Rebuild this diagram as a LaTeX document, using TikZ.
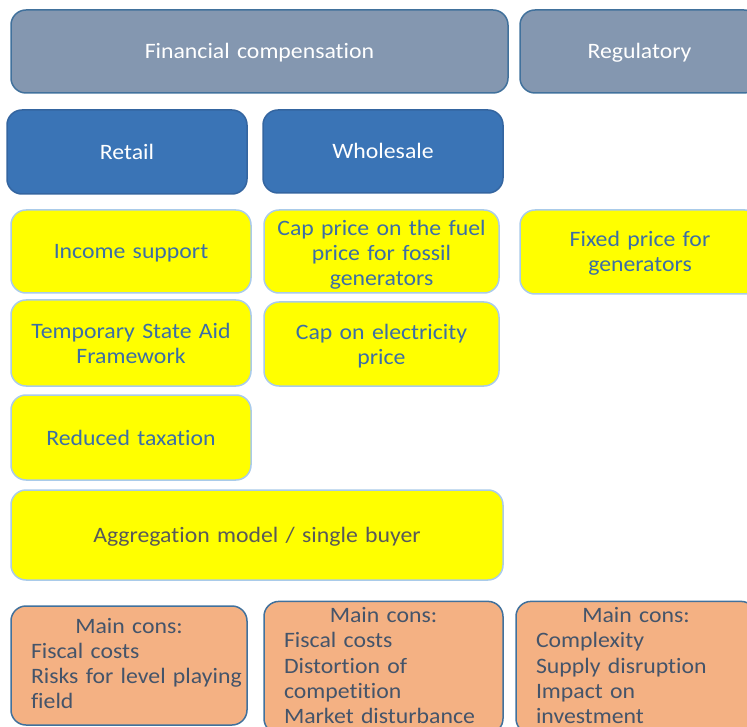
\documentclass[tikz,border=0pt]{standalone}
\usepackage{fontspec}
\setmainfont{Carlito}[FakeStretch=1.08,Ligatures=CommonOff]
\usetikzlibrary{positioning}

\begin{document}
\begin{tikzpicture}[x=1pt,y=-1pt,
	box/.style={rectangle,rounded corners=15pt,line width=1.5pt,inner sep=0pt,
		text width=215pt,align=center,font=\fontsize{22}{25}\selectfont,
		execute at begin node={\rule{0pt}{21pt}},
		execute at end node={\rule[-6pt]{0pt}{0pt}}},
	head node/.style={box,draw=frame,fill=slate,text=white},
	sub node/.style={box,draw=subframe,fill=steel,text=white},
	measure node/.style={box,draw=lightframe,fill=yellow,text=itemtext},
	cons node/.style={box,draw=frame,fill=peach,text=constext,align=left,
		font=\fontsize{22}{25.3}\selectfont,
		execute at end node={\rule[-10pt]{0pt}{0pt}}}]
	
	\definecolor{slate}{HTML}{8497B0}
	\definecolor{frame}{HTML}{41719C}
	\definecolor{steel}{HTML}{3A74B6}
	\definecolor{subframe}{HTML}{3465A0}
	\definecolor{yellow}{HTML}{FFFF00}
	\definecolor{lightframe}{HTML}{A9CBEA}
	\definecolor{itemtext}{HTML}{3C6EA6}
	\definecolor{peach}{HTML}{F4B183}
	\definecolor{constext}{HTML}{44546A}
	\definecolor{aggtext}{HTML}{595959}
	
	\useasboundingbox (0,0) rectangle (747,727);
	\clip (0,0) rectangle (747,727);
	
	% top row
	\node[head node, minimum width=497pt, minimum height=83pt, text width=470pt] (fin) at (259.5,51.5) {Financial compensation};
	\node[head node, minimum width=239pt, minimum height=83pt] (reg) at (639.5,51.5) {Regulatory};
	
	\node[sub node, minimum width=240pt, minimum height=84pt] (retail) at (127,152) {Retail};
	\node[sub node, minimum width=240pt, minimum height=83pt] (wholesale) at (383,151.5) {Wholesale};
	
	% measures
	\node[measure node, minimum width=240pt, minimum height=83pt] (income) at (131,251.5) {Income support};
	\node[measure node, minimum width=235pt, minimum height=83pt,
		execute at begin node={\rule{0pt}{25pt}}] (capfuel) at (381.5,251.5) {Cap price on the fuel\\price for fossil\\generators};
	\node[measure node, minimum width=240pt, minimum height=84pt] (fixed) at (640,252) {Fixed price for\\generators};
	\node[measure node, minimum width=240pt, minimum height=86pt] (aid) at (131,343) {Temporary State Aid\\Framework};
	\node[measure node, minimum width=235pt, minimum height=84pt] (capelec) at (381.5,344) {Cap on electricity\\price};
	\node[measure node, minimum width=240pt, minimum height=85pt] (tax) at (131,437.5) {Reduced taxation};
	\node[measure node, minimum width=492pt, minimum height=90pt, text width=470pt, text=aggtext] (agg) at (257,535) {Aggregation model / single buyer};
	
	% cons
	\node[cons node, minimum width=236pt, minimum height=119pt, text width=196pt] (consretail) at (129,665.5)
		{\makebox[\linewidth]{Main cons:}\\Fiscal costs\\\mbox{Risks for level playing}\\field};
	\node[cons node, minimum width=239pt, minimum height=127pt, text width=199pt] (conswholesale) at (383.5,667.5)
		{\makebox[\linewidth]{Main cons:}\\Fiscal costs\\Distortion of\\competition\\Market disturbance};
	\node[cons node, minimum width=240pt, minimum height=127pt, text width=200pt] (consreg) at (636,667.5)
		{\makebox[\linewidth]{Main cons:}\\Complexity\\Supply disruption\\Impact on\\investment};
\end{tikzpicture}
\end{document}
